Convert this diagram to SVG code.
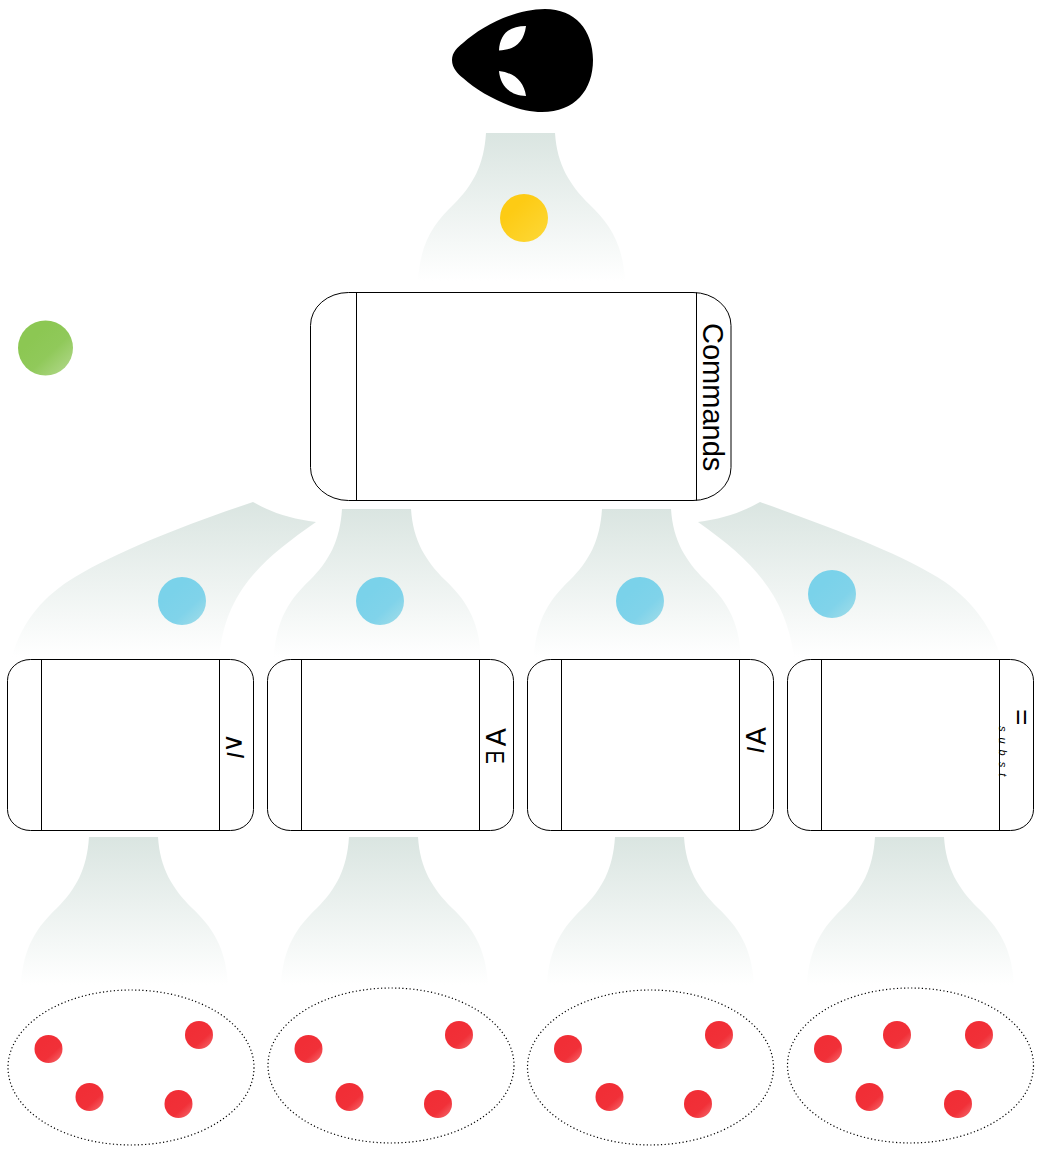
<svg xmlns="http://www.w3.org/2000/svg" width="1049" height="1157" viewBox="0 0 1049 1157">
<style>
.box{fill:#fff;stroke:#000;stroke-width:1}
.div{stroke:#000;stroke-width:1;fill:none}
.set{fill:#fff;stroke:#000;stroke-width:1.200;stroke-dasharray:1.200 2.400}
.flow{fill:url(#fg)}
.lbl{font-family:"Liberation Sans",Arial,sans-serif;font-size:24px;fill:#000}
.it{font-style:italic}
.red{fill:url(#r)}
.blue{fill:url(#b)}
</style>
<defs>
<linearGradient id="fg" x1="0" y1="0" x2="0" y2="1"><stop offset="0" stop-color="#dae5e1"/><stop offset="1" stop-color="#fff"/></linearGradient>
<linearGradient id="r" x1="0.3" y1="0.3" x2="0.85" y2="0.9"><stop offset="0" stop-color="#f12e36"/><stop offset="0.6" stop-color="#f13038"/><stop offset="1" stop-color="#f4595e"/></linearGradient>
<linearGradient id="b" x1="0.3" y1="0.3" x2="0.85" y2="0.9"><stop offset="0" stop-color="#7ad2ea"/><stop offset="0.6" stop-color="#80d3ea"/><stop offset="1" stop-color="#98dae9"/></linearGradient>
<linearGradient id="y" x1="0.3" y1="0.3" x2="0.85" y2="0.9"><stop offset="0" stop-color="#fdcb14"/><stop offset="1" stop-color="#fdd632"/></linearGradient>
<linearGradient id="g" x1="0.3" y1="0.3" x2="0.85" y2="0.9"><stop offset="0" stop-color="#8cc753"/><stop offset="0.5" stop-color="#90c95a"/><stop offset="1" stop-color="#abd581"/></linearGradient>
<path id="funnel" d="M67 0H136C138 32 151 52 170 71C190 90 204 110 206 148H-1C1 110 15 90 35 71C54 52 65 32 67 0Z"/>
</defs>
<g id="connectors">
<use href="#funnel" class="flow" transform="translate(419,133)"/>
<use href="#funnel" class="flow" transform="translate(275,509)"/>
<use href="#funnel" class="flow" transform="translate(535,509)"/>
<use href="#funnel" class="flow" transform="translate(22,837)"/>
<use href="#funnel" class="flow" transform="translate(282,837)"/>
<use href="#funnel" class="flow" transform="translate(548,837)"/>
<use href="#funnel" class="flow" transform="translate(808,837)"/>
<path class="flow" d="M253 502C272 513 292 519 316 522C262 560 226 590 219 657H12C22 620 45 595 75 577C120 550 190 523 253 502Z"/>
<path class="flow" d="M760 502C741 513 721 519 698 522C752 560 786 595 794 657H1001C992 630 975 603 945 582C905 555 830 527 760 502Z"/>
</g>
<g id="actor"><path fill="#000" fill-rule="evenodd" d="M452 60C452 52 458 47 463 43C482 26 515 9 545 9C575 9 593 30 593 60C593 90 575 112 542 112C515 112 482 95 463 78C458 74 452 68 452 60ZM526 26C510 26 500 33 499 50.500C515 50 524 42 526 26ZM499 71C500 85 510 96 526 96C524 82 515 73 499 71Z"/></g>
<g id="token-yellow"><circle cx="524" cy="218" r="24" fill="url(#y)"/></g>
<g id="token-green"><circle cx="45.500" cy="348" r="27.500" fill="url(#g)"/></g>
<g id="commands">
<rect class="box" x="310.500" y="292.500" width="420.500" height="208" rx="38" ry="33"/>
<path class="div" d="M356.500 292.500V500.500M696.500 292.500V500.500"/>
<text class="lbl" style="font-size:29px" transform="translate(702.500,323) rotate(90)">Commands</text>
</g>
<g id="node-and-intro">
<rect class="box" x="7.500" y="659.500" width="246" height="171" rx="23" ry="21"/>
<path class="div" d="M41.500 659.500V830.500M219.500 659.500V830.500"/>
<text class="lbl" style="font-size:27px" transform="translate(226,733) rotate(90)">∧</text>
<text class="lbl it" transform="translate(227,751.500) rotate(90)">I</text>
</g>
<g id="node-forall-elim">
<rect class="box" x="267.500" y="659.500" width="246" height="171" rx="23" ry="21"/>
<path class="div" d="M301.500 659.500V830.500M479.500 659.500V830.500"/>
<text class="lbl" style="font-size:27px" transform="translate(486,728) rotate(90)">∀</text>
<text class="lbl" style="font-size:25px" transform="translate(486,750.500) rotate(90) scale(0.8,1)">E</text>
</g>
<g id="node-forall-intro">
<rect class="box" x="527.500" y="659.500" width="246" height="171" rx="23" ry="21"/>
<path class="div" d="M561.500 659.500V830.500M739.500 659.500V830.500"/>
<text class="lbl" style="font-size:27px" transform="translate(746,727) rotate(90)">∀</text>
<text class="lbl it" transform="translate(747,746) rotate(90)">I</text>
</g>
<g id="node-subst">
<rect class="box" x="787.500" y="659.500" width="246" height="171" rx="23" ry="21"/>
<path class="div" d="M821.500 659.500V830.500M999.500 659.500V830.500"/>
<text class="lbl" style="font-size:28px" transform="translate(1012,709) rotate(90)">=</text>
<text class="lbl it" style="font-size:11px;letter-spacing:6px" transform="translate(999,726) rotate(90)">subst</text>
</g>
<g id="set-1">
<ellipse class="set" cx="131" cy="1067.500" rx="123" ry="77.500"/>
<circle class="red" cx="48.500" cy="1049" r="14"/><circle class="red" cx="199" cy="1035" r="14"/><circle class="red" cx="89.500" cy="1097" r="14"/><circle class="red" cx="178.500" cy="1104" r="14"/>
</g>
<g id="set-2">
<ellipse class="set" cx="391" cy="1065.500" rx="123" ry="77.500"/>
<circle class="red" cx="308.500" cy="1049" r="14"/><circle class="red" cx="459" cy="1035" r="14"/><circle class="red" cx="349.500" cy="1097" r="14"/><circle class="red" cx="438" cy="1104" r="14"/>
</g>
<g id="set-3">
<ellipse class="set" cx="650.500" cy="1067.500" rx="123" ry="77.500"/>
<circle class="red" cx="568" cy="1049" r="14"/><circle class="red" cx="719" cy="1035" r="14"/><circle class="red" cx="609.500" cy="1097" r="14"/><circle class="red" cx="698" cy="1104" r="14"/>
</g>
<g id="set-4">
<ellipse class="set" cx="910.500" cy="1065.500" rx="123" ry="77.500"/>
<circle class="red" cx="828" cy="1049" r="14"/><circle class="red" cx="897" cy="1035" r="14"/><circle class="red" cx="979" cy="1035" r="14"/><circle class="red" cx="869.500" cy="1097" r="14"/><circle class="red" cx="958" cy="1104" r="14"/>
</g>
<g id="token-blue-1"><circle class="blue" cx="182" cy="601" r="24"/></g>
<g id="token-blue-2"><circle class="blue" cx="380" cy="601" r="24"/></g>
<g id="token-blue-3"><circle class="blue" cx="640" cy="601" r="24"/></g>
<g id="token-blue-4"><circle class="blue" cx="832" cy="594" r="24"/></g>
</svg>
